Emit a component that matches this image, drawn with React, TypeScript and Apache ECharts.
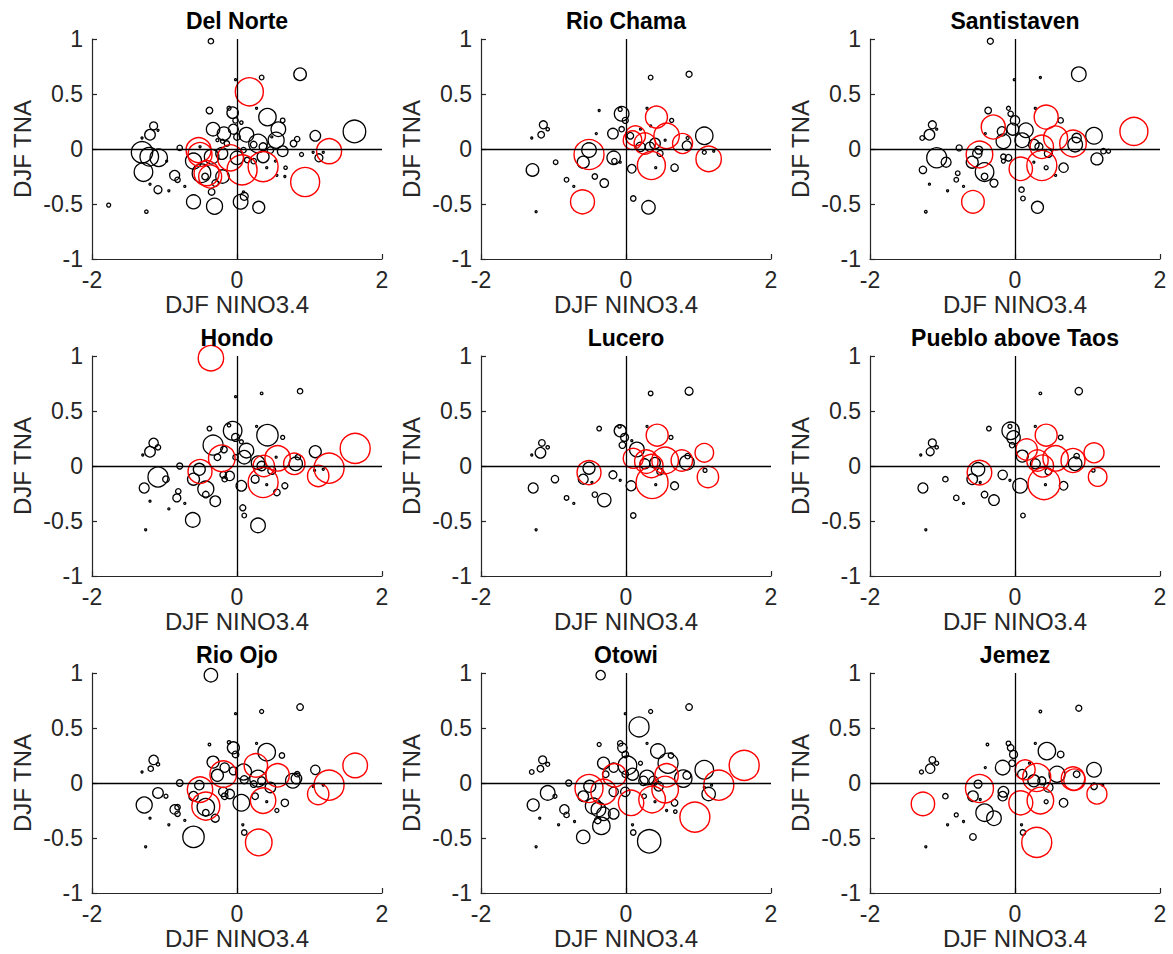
import React, { useEffect, useRef } from "react";
import * as echarts from "echarts";

// Each point: [DJF NINO3.4, DJF TNA, bubble radius]
const titles = ["Del Norte", "Rio Chama", "Santistaven", "Hondo", "Lucero", "Pueblo above Taos", "Rio Ojo", "Otowi", "Jemez"];

const delNorteBlack = [
  [-0.36, 0.98, 2.7], [0.87, 0.68, 6.3], [0.34, 0.65, 2.3], [-0.02, 0.63, 1], [-0.38, 0.35, 3.3], [-0.06, 0.33, 5.7],
  [-0.11, 0.37, 2], [0.42, 0.29, 8.7], [0.63, 0.26, 2.3], [0.27, 0.37, 1], [-0.02, 0.26, 2.7], [0.57, 0.18, 7.3],
  [0.54, 0.08, 8], [0.29, 0.05, 9.3], [0.13, 0.13, 7.3], [-0.05, 0.18, 5], [-0.18, 0.14, 6.7], [-0.33, 0.18, 6.7],
  [0.0, 0.11, 3.3], [0.06, 0.24, 1.7], [-0.27, 0.08, 1.5], [-0.2, 0.07, 2], [0.36, 0.02, 4], [0.46, -0.01, 3.3],
  [0.63, -0.02, 5.3], [0.36, -0.07, 6], [0.23, -0.11, 2.7], [0.23, 0.04, 3.3], [0.78, 0.05, 3.3], [0.83, 0.09, 2.7],
  [1.08, 0.12, 5.3], [1.62, 0.16, 11.3], [1.13, -0.08, 4], [1.05, -0.03, 1], [0.89, -0.05, 2], [1.19, -0.03, 1],
  [0.53, -0.11, 1], [0.41, -0.17, 1], [0.67, -0.17, 1.7], [0.66, -0.25, 1], [0.55, -0.24, 1], [0.0, -0.08, 6.7],
  [-0.21, -0.04, 6], [-0.35, -0.07, 7.3], [-0.6, -0.11, 8], [-0.79, 0.01, 2.7], [-0.51, 0.02, 1], [-0.2, -0.25, 6.7],
  [-0.44, -0.25, 3.3], [-0.35, -0.39, 3.3], [-0.3, -0.31, 3.3], [-0.49, -0.22, 9.3], [-0.86, -0.24, 5], [-0.82, -0.28, 2.7],
  [-0.72, -0.34, 1], [-0.94, -0.38, 1], [-1.09, -0.37, 4], [-1.2, -0.32, 1], [-1.29, -0.21, 9.3], [-1.31, -0.03, 10.7],
  [-1.21, -0.07, 9.3], [-1.08, -0.08, 8.7], [-0.97, -0.11, 1], [-1.2, 0.13, 5.3], [-1.15, 0.21, 4], [-1.09, 0.17, 1],
  [-1.31, 0.1, 1], [-1.77, -0.51, 2], [-1.25, -0.57, 1.7], [-0.6, -0.48, 7], [-0.31, -0.52, 8], [0.05, -0.48, 7.3],
  [0.1, -0.43, 4], [0.09, -0.39, 1], [0.3, -0.53, 6], [0.14, -0.1, 2.7], [0.09, -0.01, 2.7], [-0.14, 0.05, 2.7], [0.48, 0.11, 1]
];
const delNorteRed = [
  [0.17, 0.52, 14], [1.27, -0.02, 12.5], [0.94, -0.3, 14.5], [0.36, -0.16, 15], [0.07, -0.19, 15],
  [-0.09, -0.08, 13], [-0.53, -0.01, 12.5], [-0.51, -0.05, 12], [-0.42, -0.22, 12.5], [-0.37, -0.25, 11.5]
];

const rioChamaBlack = [
  [0.34, 0.65, 2.3], [0.87, 0.68, 3], [-0.37, 0.35, 1], [-0.06, 0.32, 7.3], [-0.08, 0.36, 2], [-0.01, 0.26, 3],
  [0.29, 0.37, 1], [0.63, 0.26, 2], [0.34, 0.21, 1], [0.2, 0.18, 1], [-0.18, 0.14, 5.3], [-0.06, 0.18, 2.7],
  [0.06, 0.12, 3.3], [0.2, 0.02, 4.7], [0.33, 0.02, 4.7], [0.4, 0.05, 5.3], [0.47, -0.04, 3], [0.54, 0.08, 1],
  [0.84, 0.03, 4.7], [0.85, 0.1, 1.5], [1.08, 0.12, 8.7], [1.08, -0.03, 2], [1.21, -0.02, 1], [0.67, -0.17, 3.7],
  [0.41, -0.17, 1], [0.08, -0.18, 4.3], [-0.17, -0.08, 6.7], [-0.16, -0.11, 2.7], [-0.08, -0.12, 1], [-0.51, -0.01, 7.3],
  [-0.59, -0.12, 6], [-0.97, -0.12, 2.3], [-1.29, -0.19, 6.3], [-1.14, 0.22, 4], [-1.17, 0.13, 3.3], [-1.08, 0.18, 1.7],
  [-1.3, 0.1, 1], [-0.41, 0.14, 1], [-0.43, -0.25, 2.7], [-0.3, -0.31, 4.3], [-0.82, -0.28, 2.3], [-0.72, -0.34, 1],
  [-1.24, -0.57, 1], [0.1, -0.45, 2.7], [0.31, -0.53, 6.7]
];
const rioChamaRed = [
  [0.42, 0.29, 11], [0.13, 0.12, 10], [0.09, 0.08, 9.3], [0.26, 0.05, 10.7], [0.56, 0.12, 12.7],
  [0.78, 0.05, 10], [1.14, -0.09, 12.7], [0.35, -0.15, 14], [-0.51, -0.05, 15], [-0.6, -0.48, 12]
];

const santistavenBlack = [
  [-0.34, 0.98, 3], [0.88, 0.68, 7.3], [0.35, 0.65, 1], [-0.01, 0.63, 1], [-0.37, 0.35, 3.3], [-0.09, 0.37, 2],
  [-0.06, 0.32, 2.7], [0.0, 0.26, 4.7], [0.28, 0.37, 1], [0.63, 0.26, 2.7], [-0.18, 0.16, 4.7], [-0.03, 0.18, 6],
  [0.15, 0.17, 7.3], [0.1, 0.08, 7.3], [-0.16, 0.07, 7.3], [0.26, 0.04, 5.3], [0.33, 0.02, 4], [0.46, -0.04, 4],
  [0.83, 0.04, 7.3], [0.85, 0.1, 4.7], [1.09, 0.12, 8.3], [1.13, -0.09, 6], [1.22, -0.02, 2.7], [1.29, -0.02, 2],
  [0.67, -0.17, 4.7], [0.43, -0.17, 2], [0.56, -0.24, 1], [0.26, -0.12, 1], [-0.16, -0.07, 2.7], [-0.09, -0.08, 3.3],
  [-0.16, -0.11, 2], [-0.77, 0.01, 3], [-0.5, -0.01, 4], [-0.52, -0.04, 4.7], [-0.59, -0.12, 6], [-1.08, -0.08, 10],
  [-0.95, -0.12, 5], [-1.27, -0.19, 3.7], [-1.14, 0.22, 4], [-1.18, 0.13, 5.3], [-1.28, 0.1, 2.3], [-1.08, 0.18, 1],
  [-0.41, 0.14, 1], [-0.42, -0.21, 9.3], [-0.42, -0.25, 3.3], [-0.29, -0.31, 4], [-0.79, -0.22, 2.3], [-0.81, -0.28, 2.3],
  [-0.71, -0.34, 1], [-0.93, -0.38, 1], [-1.18, -0.32, 1], [-1.23, -0.57, 1.3], [0.09, -0.37, 2.7], [0.11, -0.45, 2.3],
  [0.31, -0.53, 6]
];
const santistavenRed = [
  [0.43, 0.29, 12], [-0.3, 0.2, 12], [0.56, 0.1, 12], [0.8, 0.05, 13.3], [0.37, 0.02, 11.7],
  [1.64, 0.16, 14], [-0.49, -0.05, 13.3], [0.08, -0.18, 11.7], [0.37, -0.15, 15], [-0.58, -0.48, 11.3]
];

const hondoBlack = [
  [0.87, 0.68, 2.7], [0.34, 0.66, 1.3], [-0.02, 0.63, 1], [-0.38, 0.34, 2.3], [-0.06, 0.32, 9.3], [-0.11, 0.37, 1.7],
  [-0.02, 0.26, 4], [0.42, 0.28, 10.7], [0.63, 0.26, 2], [0.27, 0.36, 1], [-0.33, 0.19, 10], [-0.18, 0.15, 3.3],
  [0.13, 0.14, 7.3], [0.1, 0.08, 6.7], [0.06, 0.22, 2], [-0.27, 0.08, 3.3], [0.29, 0.03, 6.7], [0.34, 0.0, 4.7],
  [0.48, -0.04, 4], [0.54, 0.08, 1], [0.81, 0.02, 6.7], [0.84, 0.08, 2.7], [1.08, 0.13, 6], [1.07, -0.04, 1],
  [1.19, -0.03, 1], [0.66, -0.18, 3], [0.55, -0.24, 3.3], [0.41, -0.17, 1], [0.25, -0.12, 4], [0.06, -0.18, 5.3],
  [-0.1, -0.09, 4.7], [-0.19, -0.08, 3.3], [-0.17, -0.12, 2.7], [-0.52, -0.03, 6], [-0.6, -0.12, 6], [-0.43, -0.21, 8],
  [-0.43, -0.26, 3.3], [-0.3, -0.32, 5.3], [-0.79, 0.0, 3], [-1.09, -0.1, 10], [-0.98, -0.12, 3.3], [-1.28, -0.2, 5],
  [-1.15, 0.21, 4.7], [-1.2, 0.13, 5.3], [-1.09, 0.17, 2.7], [-1.3, 0.1, 1], [-0.81, -0.23, 2.7], [-0.83, -0.29, 4],
  [-0.72, -0.34, 1], [-0.94, -0.39, 1], [-1.2, -0.32, 1], [-1.26, -0.58, 1], [-0.61, -0.49, 7.3], [0.08, -0.38, 3],
  [0.1, -0.45, 2.3], [0.29, -0.54, 7.3], [-0.02, 0.08, 2.7]
];
const hondoRed = [
  [-0.36, 0.98, 12.7], [-0.21, 0.07, 13.3], [-0.51, -0.05, 12], [0.36, -0.15, 15], [0.37, 0.0, 10.7],
  [0.56, 0.07, 12.7], [0.79, 0.02, 10.7], [1.12, -0.09, 10.7], [1.27, -0.02, 15], [1.63, 0.16, 15]
];

const luceroBlack = [
  [0.34, 0.66, 2.3], [0.87, 0.68, 4], [-0.37, 0.34, 2.3], [-0.08, 0.32, 6], [-0.09, 0.36, 1.7], [-0.02, 0.26, 4],
  [-0.05, 0.19, 3.3], [0.08, 0.23, 1], [0.15, 0.15, 7.3], [0.29, 0.36, 1], [0.62, 0.26, 2], [0.26, 0.02, 5],
  [0.4, 0.03, 5.3], [0.47, -0.05, 3.3], [0.84, 0.03, 7.3], [0.85, 0.09, 2.7], [1.09, -0.04, 2], [0.67, -0.18, 4],
  [0.41, -0.17, 1], [0.07, -0.18, 5], [-0.08, -0.13, 1], [-0.18, -0.08, 4], [-0.51, -0.02, 6], [-0.59, -0.12, 5],
  [-0.98, -0.12, 3.7], [-1.28, -0.2, 5], [-1.16, 0.21, 3.3], [-1.18, 0.12, 5.3], [-1.08, 0.17, 1.7], [-1.3, 0.1, 1],
  [-0.43, -0.26, 2.7], [-0.3, -0.31, 6.7], [-0.82, -0.29, 2.3], [-0.72, -0.34, 1], [-1.24, -0.58, 1], [0.1, -0.45, 2.7],
  [-0.47, -0.15, 1]
];
const luceroRed = [
  [0.43, 0.28, 11], [0.1, 0.07, 10], [0.28, 0.04, 11.7], [0.35, 0.0, 11.7], [0.54, 0.05, 13.3],
  [0.77, 0.05, 10.7], [1.08, 0.12, 9.3], [1.13, -0.1, 10.7], [0.36, -0.15, 16], [-0.51, -0.06, 12]
];

const puebloBlack = [
  [0.35, 0.66, 1.3], [0.88, 0.68, 3.7], [-0.36, 0.34, 2.3], [-0.06, 0.32, 8.7], [-0.07, 0.36, 2], [-0.02, 0.26, 6.7],
  [-0.04, 0.19, 2.7], [0.28, 0.36, 1], [0.63, 0.26, 2.3], [0.1, 0.09, 6], [0.28, 0.02, 5], [0.46, -0.05, 3.3],
  [0.83, 0.02, 6.7], [0.85, 0.09, 2.7], [1.08, -0.04, 1.7], [0.67, -0.18, 4.3], [0.42, -0.17, 1], [0.07, -0.18, 7.3],
  [-0.07, -0.13, 1], [-0.17, -0.08, 4.7], [-0.51, -0.03, 6.7], [-0.59, -0.12, 5.3], [-0.96, -0.12, 2.7], [-1.27, -0.2, 5],
  [-1.14, 0.21, 4], [-1.17, 0.13, 4], [-1.08, 0.17, 1.7], [-1.3, 0.1, 1], [-0.42, -0.26, 3.3], [-0.29, -0.31, 5.3],
  [-0.81, -0.29, 2.7], [-0.71, -0.34, 1], [-1.23, -0.58, 1], [0.11, -0.45, 2.3], [-0.48, -0.15, 1]
];
const puebloRed = [
  [0.43, 0.28, 11], [0.16, 0.15, 10.7], [0.31, 0.05, 10.7], [0.38, 0.0, 11], [0.56, 0.07, 12.7],
  [0.8, 0.05, 12], [1.09, 0.12, 10], [1.14, -0.1, 9.3], [0.4, -0.16, 16], [-0.49, -0.06, 12.3]
];

const rioOjoBlack = [
  [-0.36, 0.98, 6.7], [0.87, 0.69, 3.3], [0.34, 0.65, 2], [-0.02, 0.63, 1], [-0.38, 0.35, 1.3], [-0.05, 0.32, 6],
  [-0.11, 0.37, 1.7], [-0.02, 0.26, 3.3], [0.41, 0.28, 8.7], [0.62, 0.25, 2.7], [0.27, 0.36, 1], [-0.33, 0.19, 6],
  [-0.17, 0.14, 4.7], [-0.27, 0.07, 6], [0.09, 0.1, 8], [0.29, 0.04, 8.3], [0.34, 0.02, 4], [0.46, -0.04, 5.3],
  [0.23, -0.01, 3.3], [0.77, 0.02, 7.3], [0.82, 0.04, 5.3], [0.83, 0.08, 2.7], [1.08, 0.12, 4.7], [1.19, -0.02, 1],
  [1.05, -0.03, 1], [0.66, -0.18, 3.7], [0.55, -0.25, 2], [0.41, -0.17, 1], [0.25, -0.12, 3.3], [0.06, -0.18, 8.3],
  [-0.1, -0.1, 4.7], [-0.19, -0.08, 4.7], [-0.17, -0.12, 3.3], [-0.52, -0.02, 4.7], [-0.6, -0.12, 4.7], [-0.43, -0.22, 8.7],
  [-0.43, -0.27, 3.3], [-0.3, -0.32, 4], [-0.79, 0.0, 3.3], [-1.09, -0.09, 5.3], [-0.98, -0.12, 2], [-1.28, -0.2, 8],
  [-1.15, 0.21, 4.7], [-1.19, 0.13, 2.7], [-1.09, 0.17, 1.7], [-1.31, 0.1, 1], [-0.86, -0.24, 4.7], [-0.82, -0.22, 2.7],
  [-0.82, -0.28, 2.7], [-0.72, -0.34, 1], [-0.94, -0.38, 1], [-1.2, -0.32, 1], [-1.26, -0.58, 1], [-0.6, -0.49, 10.7],
  [0.08, -0.38, 1], [0.1, -0.45, 2.7], [0.1, 0.03, 4], [-0.05, 0.11, 4]
];
const rioOjoRed = [
  [0.26, 0.16, 11.7], [-0.19, 0.08, 13.3], [-0.51, -0.06, 12.7], [-0.43, -0.21, 14], [0.36, -0.16, 12.7],
  [0.56, 0.07, 11.7], [1.12, -0.1, 10.7], [1.27, -0.02, 15], [1.63, 0.16, 12.3], [0.3, -0.54, 13.3]
];

const otowiBlack = [
  [-0.35, 0.98, 4.7], [0.87, 0.69, 3.3], [0.34, 0.65, 2], [-0.01, 0.63, 1], [-0.37, 0.35, 2], [0.18, 0.51, 10],
  [-0.08, 0.36, 2.7], [-0.05, 0.32, 4.7], [-0.01, 0.26, 3.3], [0.29, 0.36, 1], [0.44, 0.29, 7.3], [0.62, 0.25, 2.7],
  [0.58, 0.18, 10], [0.2, 0.18, 2], [0.02, 0.16, 9.3], [0.09, 0.08, 6], [-0.31, 0.18, 6], [-0.17, 0.14, 4.7],
  [-0.28, 0.08, 3.3], [-0.01, 0.08, 3.3], [0.29, 0.05, 7.3], [0.24, 0.02, 4.7], [0.38, 0.02, 4.7], [0.45, -0.03, 4.7],
  [0.79, 0.04, 8.7], [0.84, 0.07, 4], [1.08, 0.12, 9.3], [1.14, -0.1, 6.7], [1.18, -0.02, 1], [1.08, -0.04, 1],
  [0.67, -0.18, 3.3], [0.56, -0.25, 1], [0.68, -0.26, 1.7], [0.4, -0.17, 1], [0.25, -0.12, 2.3], [-0.01, -0.08, 4.7],
  [-0.17, -0.08, 4.7], [-0.5, -0.03, 6], [-0.59, -0.12, 5.3], [-0.45, -0.21, 8], [-0.38, -0.24, 7.3], [-0.31, -0.28, 6.7],
  [-0.17, -0.28, 5.3], [-0.39, -0.34, 3.3], [-0.34, -0.39, 8.7], [-0.59, -0.49, 6.7], [-0.79, 0.0, 3], [-1.08, -0.09, 7.3],
  [-0.98, -0.12, 2], [-1.28, -0.2, 6], [-1.15, 0.21, 4], [-1.18, 0.13, 3.3], [-1.08, 0.17, 2], [-1.3, 0.1, 2.3],
  [-0.85, -0.24, 4.7], [-0.82, -0.29, 2.7], [-0.71, -0.35, 1], [-0.93, -0.38, 1], [-1.19, -0.32, 1], [-1.24, -0.58, 1],
  [0.09, -0.38, 1], [0.1, -0.45, 2.7], [0.32, -0.53, 11.7]
];
const otowiRed = [
  [-0.16, 0.07, 11.7], [-0.51, -0.05, 14], [-0.31, -0.08, 12.7], [0.07, -0.18, 12.7], [0.36, -0.15, 13.3],
  [0.54, -0.06, 13.3], [0.56, 0.07, 11.7], [0.95, -0.31, 15], [1.28, -0.02, 15], [1.63, 0.16, 15]
];

const jemezBlack = [
  [0.35, 0.65, 1.3], [0.88, 0.68, 3], [-0.38, 0.35, 1.3], [-0.09, 0.36, 2.3], [-0.06, 0.32, 3.3], [-0.02, 0.26, 4],
  [0.28, 0.36, 1], [0.44, 0.29, 8.7], [0.63, 0.26, 3.3], [-0.17, 0.14, 7.3], [-0.04, 0.18, 3.3], [0.2, 0.18, 1],
  [0.1, 0.08, 4.7], [-0.41, 0.14, 1], [0.26, 0.02, 6], [0.37, 0.02, 4], [0.46, -0.04, 4.7], [0.58, 0.08, 8],
  [0.85, 0.08, 3.3], [1.09, 0.12, 7.3], [1.09, -0.03, 3.3], [1.21, -0.02, 1], [0.67, -0.18, 4.3], [0.43, -0.17, 2],
  [-0.16, -0.08, 5.3], [-0.17, -0.12, 4.7], [-0.51, -0.01, 4], [-0.58, -0.12, 5.3], [-0.96, -0.12, 2.7], [-1.14, 0.21, 3.3],
  [-1.17, 0.13, 4.7], [-1.08, 0.18, 2], [-1.29, 0.1, 2], [-0.42, -0.27, 8.7], [-0.29, -0.32, 7.3], [-0.81, -0.29, 2],
  [-0.71, -0.35, 1], [-0.93, -0.38, 1], [-1.23, -0.58, 1], [0.09, -0.38, 1], [0.11, -0.45, 2.7], [-0.58, -0.49, 3.3],
  [-0.48, -0.15, 1]
];
const jemezRed = [
  [-1.27, -0.19, 11.7], [-0.49, -0.05, 14], [0.14, 0.12, 10], [0.3, 0.05, 14], [0.08, -0.18, 12],
  [0.35, -0.16, 13.3], [0.8, 0.04, 11.7], [0.82, 0.03, 10.7], [1.13, -0.1, 10], [0.3, -0.54, 15]
];

const blackSets = [delNorteBlack, rioChamaBlack, santistavenBlack, hondoBlack, luceroBlack, puebloBlack, rioOjoBlack, otowiBlack, jemezBlack];
const redSets = [delNorteRed, rioChamaRed, santistavenRed, hondoRed, luceroRed, puebloRed, rioOjoRed, otowiRed, jemezRed];

const FONT = "'Liberation Sans', Arial, Helvetica, sans-serif";
const AXIS_COLOR = "#262626";

export default function App() {
  const ref = useRef<HTMLDivElement>(null);
  useEffect(() => {
    document.body.style.margin = "0";
    const chart = echarts.init(ref.current as HTMLDivElement, null, { renderer: "svg" });
    const grids: any[] = [];
    const xAxes: any[] = [];
    const yAxes: any[] = [];
    const series: any[] = [];
    const titleOpts: any[] = [];
    const gw = 290;
    const gh = 220;
    titles.forEach((t, i) => {
      const col = i % 3;
      const row = Math.floor(i / 3);
      const left = 92 + col * 389;
      const top = 39 + row * 317;
      grids.push({ left, top, width: gw, height: gh });
      titleOpts.push({
        text: t,
        left: left + gw / 2,
        top: top - 30,
        textAlign: "center",
        padding: 0,
        textStyle: { fontSize: 23, fontWeight: "bold", color: "#000", fontFamily: FONT },
      });
      xAxes.push({
        gridIndex: i,
        type: "value",
        min: -2,
        max: 2,
        interval: 2,
        name: "DJF NINO3.4",
        nameLocation: "middle",
        nameGap: 33,
        nameTextStyle: { fontSize: 24, color: AXIS_COLOR, fontFamily: FONT },
        axisLine: { onZero: false, lineStyle: { color: AXIS_COLOR, width: 1.2 } },
        axisTick: { inside: true, length: 5, lineStyle: { color: AXIS_COLOR, width: 1.2 } },
        axisLabel: { fontSize: 23, color: AXIS_COLOR, margin: 9, fontFamily: FONT, showMinLabel: true, showMaxLabel: true },
        splitLine: { show: false },
      });
      yAxes.push({
        gridIndex: i,
        type: "value",
        min: -1,
        max: 1,
        interval: 0.5,
        name: "DJF TNA",
        nameLocation: "middle",
        nameGap: 58,
        nameTextStyle: { fontSize: 24, color: AXIS_COLOR, fontFamily: FONT },
        axisLine: { onZero: false, lineStyle: { color: AXIS_COLOR, width: 1.2 } },
        axisTick: { inside: true, length: 5, lineStyle: { color: AXIS_COLOR, width: 1.2 } },
        axisLabel: { fontSize: 23, color: AXIS_COLOR, margin: 9, fontFamily: FONT, showMinLabel: true, showMaxLabel: true },
        splitLine: { show: false },
      });
      series.push({
        type: "scatter",
        xAxisIndex: i,
        yAxisIndex: i,
        data: blackSets[i],
        symbol: "circle",
        symbolSize: (v: number[]) => v[2] * 2,
        itemStyle: { color: "rgba(0,0,0,0)", borderColor: "#000", borderWidth: 1.3, opacity: 1 },
        emphasis: { disabled: true },
        silent: true,
        z: 2,
        markLine: {
          silent: true,
          symbol: ["none", "none"],
          label: { show: false },
          lineStyle: { color: "#000", width: 1.3, type: "solid" },
          data: [{ xAxis: 0 }, { yAxis: 0 }],
        },
      });
      series.push({
        type: "scatter",
        xAxisIndex: i,
        yAxisIndex: i,
        data: redSets[i],
        symbol: "circle",
        symbolSize: (v: number[]) => v[2] * 2,
        itemStyle: { color: "rgba(0,0,0,0)", borderColor: "#ff0000", borderWidth: 1.4, opacity: 1 },
        emphasis: { disabled: true },
        silent: true,
        z: 3,
      });
    });
    chart.setOption({
      animation: false,
      backgroundColor: "#ffffff",
      title: titleOpts,
      grid: grids,
      xAxis: xAxes,
      yAxis: yAxes,
      series,
    });
    return () => chart.dispose();
  }, []);
  return <div ref={ref} style={{ width: 1173, height: 954 }} />;
}
